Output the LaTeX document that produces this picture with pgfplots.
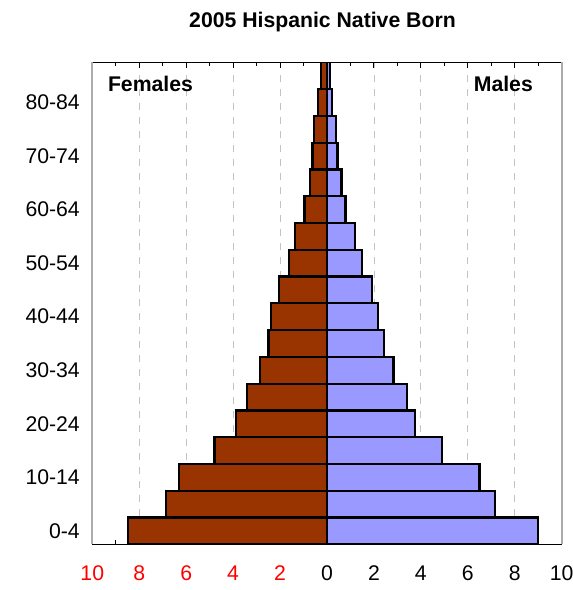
\documentclass[border=0pt]{standalone}
\usepackage{pgfplots}
\usepackage{pgfplotstable}
\pgfplotsset{compat=1.18}
\usepackage{fontspec}
\setmainfont{Liberation Sans}
\definecolor{fem}{RGB}{153,51,0}
\definecolor{mal}{RGB}{153,153,255}
\definecolor{gridgray}{RGB}{195,195,195}
\newcommand\lab{\fontsize{21.3}{25}\selectfont}

% age group index (0 = 0-4, ..., 17 = 85+), percent
\pgfplotstableread{
idx females males
0  8.49 9.00
1  6.87 7.17
2  6.31 6.50
3  4.79 4.89
4  3.88 3.76
5  3.42 3.40
6  2.87 2.83
7  2.49 2.44
8  2.40 2.16
9  2.03 1.93
10 1.63 1.48
11 1.35 1.21
12 0.96 0.79
13 0.74 0.62
14 0.62 0.45
15 0.57 0.38
16 0.38 0.23
17 0.24 0.13
}\pyramid

\begin{document}
\begin{tikzpicture}[font=\lab]
\useasboundingbox (-92.3bp,-45.7bp) rectangle (480.7bp,544.3bp);
\begin{axis}[
  at={(0,0)}, anchor=south west,
  scale only axis, width=469.4bp, height=482bp,
  xbar, bar width=1, bar shift=0pt,
  xmin=-10, xmax=10, ymin=-0.5, ymax=17.5,
  xtick={-10,-8,...,10},
  xticklabels={\textcolor{red}{10},\textcolor{red}{8},\textcolor{red}{6},\textcolor{red}{4},\textcolor{red}{2},0,2,4,6,8,10},
  minor x tick num=1,
  tick align=inside,
  major tick length=6bp, minor tick length=4bp,
  xtick style={black, line width=1bp},
  ytick={0,2,...,16},
  yticklabels={0-4,10-14,20-24,30-34,40-44,50-54,60-64,70-74,80-84},
  ytick style={draw=none},
  xmajorgrids,
  grid style={gridgray, line width=0.8bp, dash pattern=on 7bp off 7bp},
  separate axis lines,
  x axis line style={black, line width=1.2bp},
  y axis line style={gray!65, line width=1.8bp},
  /pgf/number format/assume math mode=true,
  ticklabel style={font=\lab},
  xticklabel style={yshift=-18bp},
  yticklabel style={xshift=-9bp},
  title={\bfseries 2005 Hispanic Native Born},
  title style={font=\lab\bfseries, at={(0.4904,1)}, anchor=base, yshift=29bp},
]
\addplot[draw=black, line width=2.2bp, fill=fem] table[x expr=-\thisrow{females}, y=idx] {\pyramid};
\addplot[draw=black, line width=2.2bp, fill=mal] table[x=males, y=idx] {\pyramid};
\node[anchor=base west, font=\lab\bfseries] at (rel axis cs:0.026,0.939) {Females};
\node[anchor=base east, font=\lab\bfseries] at (rel axis cs:0.946,0.939) {Males};
\end{axis}
\end{tikzpicture}
\end{document}
